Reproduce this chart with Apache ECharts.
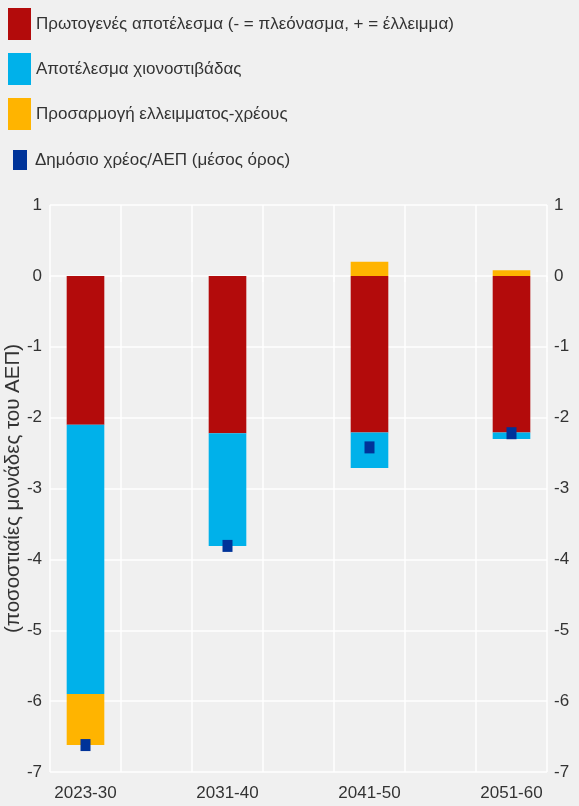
<!DOCTYPE html>
<html>
<head>
<meta charset="utf-8">
<script src="https://cdn.jsdelivr.net/npm/echarts@6/dist/echarts.min.js"></script>
<style>
  html, body { margin: 0; padding: 0; background: #f0f0f0; }
  #chart { width: 579px; height: 806px; }
</style>
</head>
<body>
<div id="chart"></div>
<script>
// Periods and components of the change in debt (percentage points of GDP)
const categories = ['2023-30', '2031-40', '2041-50', '2051-60'];
const primaryBalance = [-2.1, -2.22, -2.21, -2.21];
const snowballEffect = [-3.8, -1.59, -0.5, -0.09];
const stockFlowAdjustment = [-0.72, 0, 0.2, 0.08];
const debtRatioAverage = [-6.62, -3.81, -2.42, -2.22];
const yTicks = [-7, -6, -5, -4, -3, -2, -1, 0, 1];

const names = {
  primary: 'Πρωτογενές αποτέλεσμα (- = πλεόνασμα, + = έλλειμμα)',
  snowball: 'Αποτέλεσμα χιονοστιβάδας',
  sfa: 'Προσαρμογή ελλειμματος-χρέους',
  debt: 'Δημόσιο χρέος/ΑΕΠ (μέσος όρος)'
};

// Periods sit in every other slot, with empty spacer slots between them
const slots = [];
categories.forEach((c, i) => {
  if (i > 0) slots.push('');
  slots.push(c);
});
const spread = arr => {
  const out = [];
  arr.forEach((v, i) => {
    if (i > 0) out.push(null);
    out.push(v);
  });
  return out;
};

const font = '"Liberation Sans", Arial, sans-serif';
const textColor = '#333333';
const tickFont = { color: textColor, fontSize: 17, fontFamily: font };

const yAxisBase = {
  type: 'value',
  min: yTicks[0],
  max: yTicks[yTicks.length - 1],
  interval: 1,
  axisLine: { show: false },
  axisTick: { show: false },
  splitLine: { show: true, lineStyle: { color: '#ffffff', width: 1.5 } }
};

const chart = echarts.init(document.getElementById('chart'));
chart.setOption({
  backgroundColor: '#f0f0f0',
  animation: false,
  textStyle: { fontFamily: font },
  legend: [
    {
      orient: 'vertical',
      left: 8,
      top: 8,
      padding: 0,
      itemWidth: 23,
      itemHeight: 32,
      itemGap: 13,
      icon: 'rect',
      selectedMode: false,
      textStyle: { color: textColor, fontSize: 17, fontFamily: font, padding: [3, 0, 0, 0] },
      data: [names.primary, names.snowball, names.sfa]
    },
    {
      orient: 'vertical',
      left: 13,
      top: 150,
      padding: 0,
      itemWidth: 14,
      itemHeight: 20,
      icon: 'rect',
      selectedMode: false,
      textStyle: { color: textColor, fontSize: 17, fontFamily: font, padding: [1, 0, 0, 3] },
      data: [names.debt]
    }
  ],
  grid: { left: 50, right: 32, top: 205, bottom: 34, containLabel: false, outerBoundsMode: 'none' },
  xAxis: {
    type: 'category',
    data: slots,
    boundaryGap: true,
    axisLine: { show: false },
    axisTick: { show: true, interval: 0, length: 6, lineStyle: { color: '#ffffff', width: 1.5 } },
    axisLabel: Object.assign({ interval: 0, margin: 13 }, tickFont),
    splitLine: { show: true, interval: 0, lineStyle: { color: '#ffffff', width: 1.5 } }
  },
  yAxis: [
    Object.assign({}, yAxisBase, {
      position: 'left',
      name: '(ποσοστιαίες μονάδες του ΑΕΠ)',
      nameLocation: 'middle',
      nameRotate: 90,
      nameGap: 26,
      nameMoveOverlap: false,
      nameTextStyle: { color: textColor, fontSize: 20.5, fontFamily: font },
      axisLabel: Object.assign({ margin: 8 }, tickFont)
    }),
    Object.assign({}, yAxisBase, {
      position: 'right',
      splitLine: { show: false },
      axisLabel: Object.assign({ margin: 7 }, tickFont)
    })
  ],
  series: [
    {
      name: names.primary,
      type: 'bar',
      stack: 'total',
      barWidth: '53%',
      itemStyle: { color: '#b30b0b' },
      data: spread(primaryBalance)
    },
    {
      name: names.snowball,
      type: 'bar',
      stack: 'total',
      barWidth: '53%',
      itemStyle: { color: '#00b1ea' },
      data: spread(snowballEffect)
    },
    {
      name: names.sfa,
      type: 'bar',
      stack: 'total',
      barWidth: '53%',
      itemStyle: { color: '#ffb400' },
      data: spread(stockFlowAdjustment)
    },
    {
      name: names.debt,
      type: 'scatter',
      symbol: 'rect',
      symbolSize: [10, 12],
      itemStyle: { color: '#003399', opacity: 1 },
      z: 5,
      data: spread(debtRatioAverage)
    }
  ]
});
</script>
</body>
</html>
